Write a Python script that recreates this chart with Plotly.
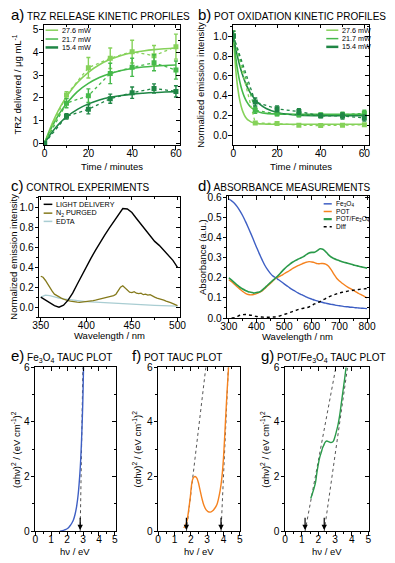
import plotly.graph_objects as go

W, H = 395, 563
FONT = "Liberation Sans, Arial, sans-serif"


def px(x):
    return x / W


def py(y):
    return 1 - y / H


# ---------------- Panel a: TRZ release ----------------
time_min = [0, 10, 20, 30, 40, 50, 60]
trz_276 = [0, 2.12, 3.32, 3.74, 4.03, 3.85, 4.25]
trz_276_err = [0, 0.15, 0.45, 0.45, 0.5, 0.45, 0.55]
trz_217 = [0, 1.76, 2.09, 3.07, 3.34, 3.54, 3.22]
trz_217_err = [0, 0.2, 0.3, 0.45, 0.4, 0.35, 0.4]
trz_154 = [0, 1.18, 1.49, 1.96, 2.22, 2.41, 2.28]
trz_154_err = [0, 0.12, 0.2, 0.2, 0.25, 0.2, 0.25]
fit_time_a = [0, 2.5, 5, 7.5, 10, 15, 20, 25, 30, 35, 40, 45, 50, 55, 60]
trz_fit_276 = [0, 0.64, 1.19, 1.65, 2.04, 2.67, 3.12, 3.45, 3.69, 3.86, 3.98, 4.06, 4.12, 4.16, 4.19]
trz_fit_217 = [0, 0.55, 1.01, 1.41, 1.74, 2.27, 2.63, 2.89, 3.07, 3.20, 3.29, 3.35, 3.39, 3.42, 3.44]
trz_fit_154 = [0, 0.37, 0.68, 0.94, 1.16, 1.49, 1.73, 1.90, 2.02, 2.10, 2.16, 2.20, 2.23, 2.25, 2.27]

# ---------------- Panel b: POT oxidation ----------------
pot_276 = [1.0, 0.128, 0.122, 0.105, 0.102, 0.105, 0.11]
pot_276_err = [0.05, 0.01, 0.01, 0.01, 0.01, 0.01, 0.01]
pot_217 = [1.0, 0.256, 0.22, 0.21, 0.208, 0.21, 0.225]
pot_217_err = [0.05, 0.03, 0.02, 0.02, 0.02, 0.025, 0.03]
pot_154 = [1.0, 0.338, 0.27, 0.242, 0.2, 0.198, 0.178]
pot_154_err = [0.05, 0.04, 0.03, 0.03, 0.02, 0.03, 0.03]
fit_time_b = [0, 1, 2, 3, 4, 5, 6, 7, 8, 10, 12, 15, 20, 25, 30, 40, 50, 60]
pot_fit_276 = [1.0, 0.68, 0.475, 0.344, 0.261, 0.208, 0.174, 0.153, 0.139, 0.125, 0.119, 0.117, 0.115, 0.115, 0.115, 0.115, 0.115, 0.115]
pot_fit_217 = [1.0, 0.797, 0.646, 0.534, 0.451, 0.39, 0.345, 0.311, 0.286, 0.254, 0.236, 0.224, 0.218, 0.216, 0.215, 0.215, 0.215, 0.215]
pot_fit_154 = [1.0, 0.882, 0.781, 0.695, 0.622, 0.559, 0.506, 0.461, 0.422, 0.362, 0.317, 0.273, 0.233, 0.215, 0.207, 0.201, 0.2, 0.2]

# ---------------- Panel c: control experiments ----------------
wl_c = [350, 355, 360, 365, 370, 375, 380, 385, 390, 395, 400, 405, 410, 415, 420, 425,
        430, 435, 440, 445, 450, 455, 460, 465, 470, 475, 480, 485, 490, 495, 500]
light_delivery = [0.10, 0.07, 0.04, 0.015, 0.0, 0.02, 0.07, 0.14, 0.23, 0.32, 0.41, 0.49, 0.57, 0.65,
                  0.72, 0.79, 0.86, 0.93, 0.99, 0.985, 0.95, 0.89, 0.83, 0.77, 0.71, 0.66, 0.62,
                  0.57, 0.52, 0.47, 0.40]
edta = [0.10, 0.12, 0.115, 0.10, 0.09, 0.082, 0.075, 0.07, 0.065, 0.06, 0.055, 0.052, 0.05, 0.047,
        0.045, 0.042, 0.04, 0.037, 0.035, 0.033, 0.03, 0.028, 0.025, 0.022, 0.02, 0.018, 0.017,
        0.015, 0.013, 0.011, 0.01]
wl_c_fine = [350 + 2.5 * i for i in range(61)]
n2_purged = [0.31, 0.30, 0.27, 0.23, 0.19, 0.16, 0.13, 0.115, 0.10, 0.09, 0.08, 0.07, 0.065, 0.06,
             0.055, 0.052, 0.05, 0.048, 0.05, 0.052, 0.055, 0.058, 0.062, 0.066, 0.07, 0.075, 0.08,
             0.085, 0.09, 0.095, 0.10, 0.105, 0.115, 0.13, 0.17, 0.20, 0.215, 0.19, 0.165, 0.15,
             0.145, 0.155, 0.14, 0.135, 0.14, 0.125, 0.13, 0.12, 0.125, 0.11, 0.10, 0.09, 0.085,
             0.075, 0.07, 0.06, 0.055, 0.045, 0.035, 0.025, 0.015]

# ---------------- Panel d: absorbance ----------------
wl_d = list(range(300, 801, 10))
abs_fe3o4 = [0.590, 0.582, 0.570, 0.553, 0.532, 0.508, 0.480, 0.450, 0.418, 0.385, 0.352, 0.320,
             0.290, 0.262, 0.240, 0.222, 0.208, 0.200, 0.190, 0.180, 0.170, 0.160, 0.150, 0.141,
             0.133, 0.125, 0.118, 0.111, 0.105, 0.099, 0.094, 0.089, 0.085, 0.081, 0.077, 0.074,
             0.071, 0.068, 0.066, 0.063, 0.061, 0.059, 0.057, 0.056, 0.054, 0.053, 0.051, 0.050,
             0.049, 0.048, 0.047]
abs_pot = [0.190, 0.180, 0.168, 0.155, 0.143, 0.132, 0.123, 0.117, 0.115, 0.117, 0.121, 0.127,
           0.135, 0.147, 0.160, 0.172, 0.185, 0.198, 0.205, 0.212, 0.220, 0.228, 0.236, 0.245,
           0.253, 0.260, 0.266, 0.272, 0.277, 0.280, 0.278, 0.275, 0.270, 0.270, 0.271, 0.268,
           0.258, 0.240, 0.218, 0.198, 0.184, 0.173, 0.163, 0.154, 0.146, 0.138, 0.130, 0.122,
           0.115, 0.108, 0.100]
abs_pot_fe3o4 = [0.200, 0.188, 0.176, 0.164, 0.153, 0.144, 0.137, 0.131, 0.128, 0.124, 0.127, 0.129,
                 0.138, 0.150, 0.163, 0.176, 0.188, 0.200, 0.213, 0.228, 0.243, 0.256, 0.267, 0.277,
                 0.285, 0.292, 0.298, 0.305, 0.315, 0.323, 0.326, 0.327, 0.335, 0.344, 0.342, 0.330,
                 0.315, 0.303, 0.296, 0.290, 0.285, 0.280, 0.276, 0.272, 0.268, 0.264, 0.261, 0.257,
                 0.254, 0.251, 0.248]
wl_diff = list(range(310, 801, 10))
abs_diff = [0.0, 0.002, 0.008, 0.014, 0.017, 0.018, 0.016, 0.014, 0.011, 0.008, 0.006, 0.005,
            0.004, 0.004, 0.004, 0.005, 0.006, 0.009, 0.013, 0.018, 0.022, 0.027, 0.032, 0.037,
            0.042, 0.046, 0.049, 0.051, 0.055, 0.062, 0.070, 0.076, 0.082, 0.090, 0.097, 0.104,
            0.110, 0.115, 0.120, 0.125, 0.128, 0.131, 0.134, 0.136, 0.138, 0.140, 0.142, 0.144,
            0.145, 0.147]

# ---------------- Panels e-g: Tauc plots ----------------
hv_e = [1.55, 1.7, 1.85, 2.0, 2.1, 2.2, 2.3, 2.4, 2.5, 2.6, 2.7, 2.8, 2.85, 2.9, 2.95, 3.0, 3.03]
tauc_e = [0.0, 0.02, 0.05, 0.09, 0.14, 0.21, 0.30, 0.42, 0.62, 0.92, 1.38, 2.1, 2.6, 3.25, 4.05, 5.1, 6.0]
tangent_e_x = [2.82, 2.99]
tangent_e_y = [0, 6]
gap_e = [2.82]

hv_f = [1.57, 1.65, 1.76, 1.85, 1.96, 2.06, 2.15, 2.25, 2.35, 2.45, 2.55, 2.68, 2.8, 2.94, 3.05,
        3.19, 3.3, 3.47, 3.6, 3.7, 3.8, 3.9, 3.98, 4.05, 4.12, 4.2, 4.27, 4.31]
tauc_f = [0.12, 0.2, 0.36, 0.7, 1.2, 1.75, 1.95, 2.0, 1.96, 1.81, 1.55, 1.2, 0.95, 0.78, 0.72,
          0.7, 0.73, 0.84, 0.98, 1.2, 1.5, 1.95, 2.5, 3.2, 4.0, 4.9, 5.6, 6.0]
tangent_f1_x = [1.73, 2.92]
tangent_f1_y = [0, 6]
tangent_f2_x = [3.85, 4.3]
tangent_f2_y = [0, 6]
gap_f = [1.73, 3.85]

hv_g = [1.54, 1.65, 1.75, 1.83, 1.9, 1.98, 2.08, 2.18, 2.25, 2.31, 2.4, 2.5, 2.6, 2.7, 2.8, 2.9,
        2.98, 3.08, 3.18, 3.28, 3.38, 3.48, 3.58, 3.66]
tauc_g = [1.2, 1.4, 1.6, 1.8, 2.1, 2.4, 2.7, 2.9, 3.05, 3.13, 3.25, 3.3, 3.28, 3.25, 3.25, 3.3,
          3.43, 3.65, 3.9, 4.25, 4.7, 5.15, 5.6, 6.0]
tangent_g1_x = [1.2, 3.05]
tangent_g1_y = [0, 6]
tangent_g2_x = [2.35, 3.75]
tangent_g2_y = [0, 6]
gap_g = [1.2, 2.35]

# ---------------- styles ----------------
C_LIGHT = "#86d25a"
C_MED = "#45b94a"
C_DARK = "#1f8645"
C_BLACK = "#000000"
C_OLIVE = "#857a1c"
C_EDTA = "#a9cdd2"
C_BLUE = "#3e5fc4"
C_ORANGE = "#f5821f"
C_GREEN = "#2a9a4a"
C_DASH = "#555555"

fig = go.Figure()

# panel geometry in pixels: (left, right, top, bottom)
panels = [
    dict(box=(38.3, 179, 20, 143), xr=[-0.3, 61.7], yr=[-0.09, 5.22], xd=20, xm=10, yd=1, ym=0.5, yfmt=""),
    dict(box=(234.3, 375, 20, 143), xr=[-0.2, 62], yr=[-0.095, 1.115], xd=20, xm=10, yd=0.2, ym=0.1, yfmt=".1f"),
    dict(box=(33.3, 179, 195.7, 318.3), xr=[348.2, 502.4], yr=[-0.1, 1.107], xd=50, xm=25, yd=0.2, ym=0.1, yfmt=".1f"),
    dict(box=(228.3, 375, 195, 319.3), xr=[294, 806], yr=[0, 0.605], xd=100, xm=50, yd=0.1, ym=0.05, yfmt=".1f"),
    dict(box=(29.3, 112.7, 369.5, 536.7), xr=[0, 5.05], yr=[0, 6], xd=1, xm=0.5, yd=2, ym=1, yfmt=""),
    dict(box=(156.7, 241.7, 369.5, 536.7), xr=[0, 5.02], yr=[0, 6], xd=1, xm=0.5, yd=2, ym=1, yfmt=""),
    dict(box=(288.3, 375, 369.5, 536.7), xr=[0, 5.02], yr=[0, 6], xd=1, xm=0.5, yd=2, ym=1, yfmt=""),
]

TICKFONT = dict(family=FONT, size=10.2, color="#000")
layout_axes = {}
for i, p in enumerate(panels):
    n1 = 2 * i + 1
    n2 = 2 * i + 2
    l, r, t, b = p["box"]
    xd = [px(l), px(r)]
    yd = [py(b), py(t)]
    common = dict(showgrid=False, zeroline=False)
    layout_axes[f"xaxis{n1}"] = dict(
        domain=xd, range=p["xr"], anchor=f"y{n1}", dtick=p["xd"], tick0=0,
        ticks="outside", ticklen=3.5, tickwidth=1, tickcolor="#000", ticklabelstandoff=-5,
        minor=dict(dtick=p["xm"], ticks="outside", ticklen=2, tickcolor="#000"),
        showline=True, linecolor="#000", linewidth=1, mirror=True,
        tickfont=TICKFONT, **common)
    layout_axes[f"yaxis{n1}"] = dict(
        domain=yd, range=p["yr"], anchor=f"x{n1}", dtick=p["yd"], tick0=0,
        ticks="outside", ticklen=3.5, tickwidth=1, tickcolor="#000", tickformat=p["yfmt"],
        ticklabelstandoff=-1,
        minor=dict(dtick=p["ym"], ticks="outside", ticklen=2, tickcolor="#000"),
        showline=True, linecolor="#000", linewidth=1, mirror=True,
        tickfont=TICKFONT, **common)
    layout_axes[f"xaxis{n2}"] = dict(
        overlaying=f"x{n1}", anchor=f"y{n1}", side="top", range=p["xr"], dtick=p["xd"], tick0=0,
        ticks="inside", ticklen=3.5, tickcolor="#000", showticklabels=False, showline=False,
        minor=dict(dtick=p["xm"], ticks="inside", ticklen=2, tickcolor="#000"), **common)
    layout_axes[f"yaxis{n2}"] = dict(
        overlaying=f"y{n1}", anchor=f"x{n1}", side="right", range=p["yr"], dtick=p["yd"], tick0=0,
        ticks="inside", ticklen=3.5, tickcolor="#000", showticklabels=False, showline=False,
        minor=dict(dtick=p["ym"], ticks="inside", ticklen=2, tickcolor="#000"), **common)
    fig.add_trace(go.Scatter(x=[], y=[], xaxis=f"x{n2}", yaxis=f"y{n2}", showlegend=False,
                             hoverinfo="skip"))


def ax(i):
    return dict(xaxis=f"x{2 * i + 1}", yaxis=f"y{2 * i + 1}")


def line(i, x, y, color, width=1.4, dash="solid", name=None, shape="spline"):
    fig.add_trace(go.Scatter(x=x, y=y, mode="lines", name=name,
                             line=dict(color=color, width=width, dash=dash, shape=shape),
                             showlegend=False, **ax(i)))


def points(i, x, y, err, color, name):
    fig.add_trace(go.Scatter(x=x, y=y, mode="lines+markers", name=name,
                             line=dict(color=color, width=1.3, dash="dot"),
                             marker=dict(symbol="square", size=5, color=color),
                             error_y=dict(type="data", array=err, color=color, thickness=1.4, width=2),
                             showlegend=False, **ax(i)))


# panel a
line(0, fit_time_a, trz_fit_276, C_LIGHT, 1.6)
line(0, fit_time_a, trz_fit_217, C_MED, 1.6)
line(0, fit_time_a, trz_fit_154, C_DARK, 1.6)
points(0, time_min, trz_276, trz_276_err, C_LIGHT, "27.6 mW")
points(0, time_min, trz_217, trz_217_err, C_MED, "21.7 mW")
points(0, time_min, trz_154, trz_154_err, C_DARK, "15.4 mW")

# panel b
line(1, fit_time_b, pot_fit_276, C_LIGHT, 1.6)
line(1, fit_time_b, pot_fit_217, C_MED, 1.6)
line(1, fit_time_b, pot_fit_154, C_DARK, 1.6)
points(1, time_min, pot_276, pot_276_err, C_LIGHT, "27.6 mW")
points(1, time_min, pot_217, pot_217_err, C_MED, "21.7 mW")
points(1, time_min, pot_154, pot_154_err, C_DARK, "15.4 mW")

# panel c
line(2, wl_c, edta, C_EDTA, 1.3, name="EDTA", shape="linear")
line(2, wl_c_fine, n2_purged, C_OLIVE, 1.3, name="N2 PURGED", shape="linear")
line(2, wl_c, light_delivery, C_BLACK, 1.4, name="LIGHT DELIVERY", shape="linear")

# panel d
line(3, wl_d, abs_fe3o4, C_BLUE, 1.4, name="Fe3O4")
line(3, wl_d, abs_pot, C_ORANGE, 1.4, name="POT")
line(3, wl_d, abs_pot_fe3o4, C_GREEN, 1.6, name="POT/Fe3O4")
line(3, wl_diff, abs_diff, C_BLACK, 1.4, dash="dot", name="Diff")

# panels e-g
line(4, tangent_e_x, tangent_e_y, C_DASH, 1, dash="dot", shape="linear")
line(4, hv_e, tauc_e, C_BLUE, 1.4)
line(5, tangent_f1_x, tangent_f1_y, C_DASH, 1, dash="dot", shape="linear")
line(5, tangent_f2_x, tangent_f2_y, C_DASH, 1, dash="dot", shape="linear")
line(5, hv_f, tauc_f, C_ORANGE, 1.4)
line(6, tangent_g1_x, tangent_g1_y, C_DASH, 1, dash="dot", shape="linear")
line(6, tangent_g2_x, tangent_g2_y, C_DASH, 1, dash="dot", shape="linear")
line(6, hv_g, tauc_g, C_GREEN, 1.4)

annotations = []
shapes = []

# band gap arrows
for i, gaps in ((4, gap_e), (5, gap_f), (6, gap_g)):
    for g in gaps:
        annotations.append(dict(x=g, y=0.04, ax=g, ay=0.55, xref=f"x{2 * i + 1}", yref=f"y{2 * i + 1}",
                                axref=f"x{2 * i + 1}", ayref=f"y{2 * i + 1}", text="", showarrow=True,
                                arrowhead=2, arrowsize=0.9, arrowwidth=1.2, arrowcolor="#000"))

# panel titles
titles = [
    (2, 10, "a)", "TRZ RELEASE KINETIC PROFILES"),
    (196, 10, "b)", "POT OXIDATION KINETIC PROFILES"),
    (2, 184, "c)", "CONTROL EXPERIMENTS"),
    (196, 184, "d)", "ABSORBANCE MEASUREMENTS"),
    (2, 357, "e)", "Fe<sub>3</sub>O<sub>4</sub> TAUC PLOT"),
    (128, 357, "f)", "POT TAUC PLOT"),
    (261, 357, "g)", "POT/Fe<sub>3</sub>O<sub>4</sub> TAUC PLOT"),
]
for x, y, letter, txt in titles:
    annotations.append(dict(x=px(x), y=py(y), xref="paper", yref="paper", xanchor="left", yanchor="middle",
                            text=f'<span style="font-size:15px">{letter}</span> {txt}', showarrow=False,
                            font=dict(family=FONT, size=10, color="#000")))

# axis titles
AXF = dict(family=FONT, size=9.5, color="#000")
xtitles = [(0, 165, "Time / minutes"), (1, 165, "Time / minutes"), (2, 337.5, "Wavelength / nm"),
           (3, 338, "Wavelength / nm"), (4, 557.5, "hν / eV"), (5, 557.5, "hν / eV"), (6, 557.5, "hν / eV")]
for i, y, txt in xtitles:
    l, r, t, b = panels[i]["box"]
    annotations.append(dict(x=px((l + r) / 2), y=py(y), xref="paper", yref="paper", xanchor="center",
                            yanchor="middle", text=txt, showarrow=False, font=AXF))
TAUC_Y = "(αhν)<sup>2</sup> / (eV cm<sup>-1</sup>)<sup>2</sup>"
ytitles = [(0, 10, "TRZ delivered / μg mL<sup>-1</sup>"), (1, 201, "Normalized emission intensity"),
           (2, 7, "Normalized emission intensity"), (3, 202, "Absorbance (a.u.)"),
           (4, 10, TAUC_Y), (5, 135, TAUC_Y), (6, 268, TAUC_Y)]
for i, x, txt in ytitles:
    l, r, t, b = panels[i]["box"]
    annotations.append(dict(x=px(x), y=py((t + b) / 2), xref="paper", yref="paper", xanchor="center",
                            yanchor="middle", text=txt, textangle=-90, showarrow=False, font=AXF))

# legends (drawn as keys with text)


def legend(entries, x0, x1, xt, ys, size=7.2):
    for (label, color, dash, width), y in zip(entries, ys):
        shapes.append(dict(type="line", xref="paper", yref="paper", x0=px(x0), x1=px(x1), y0=py(y), y1=py(y),
                           line=dict(color=color, width=width, dash=dash)))
        annotations.append(dict(x=px(xt), y=py(y), xref="paper", yref="paper", xanchor="left", yanchor="middle",
                                text=label, showarrow=False,
                                font=dict(family=FONT, size=size, color="#000")))


power_entries = [("27.6 mW", C_LIGHT, "solid", 1.5), ("21.7 mW", C_MED, "solid", 1.5),
                 ("15.4 mW", C_DARK, "solid", 2.5)]
legend(power_entries, 40, 53, 55, [25.7, 34.7, 43.3])
legend(power_entries, 331, 343.5, 345.5, [25.7, 34.3, 42.7])
legend([("LIGHT DELIVERY", C_BLACK, "solid", 1.5), ("N<sub>2</sub> PURGED", C_OLIVE, "solid", 1.5),
        ("EDTA", C_EDTA, "solid", 1.5)], 38, 47, 48.5, [203.3, 212.3, 220.7])
legend([("Fe<sub>3</sub>O<sub>4</sub>", C_BLUE, "solid", 1.5), ("POT", C_ORANGE, "solid", 1.5),
        ("POT/Fe<sub>3</sub>O<sub>4</sub>", C_GREEN, "solid", 2.2), ("Diff", C_BLACK, "dot", 1.5)],
       328.3, 336.7, 338.5, [202.8, 210.6, 218.4, 226.2], size=6.6)

fig.update_layout(
    width=W, height=H, margin=dict(l=0, r=0, t=0, b=0),
    paper_bgcolor="white", plot_bgcolor="white", showlegend=False,
    font=dict(family=FONT, color="#000"),
    annotations=annotations, shapes=shapes, **layout_axes)

fig.write_html("out.html")
